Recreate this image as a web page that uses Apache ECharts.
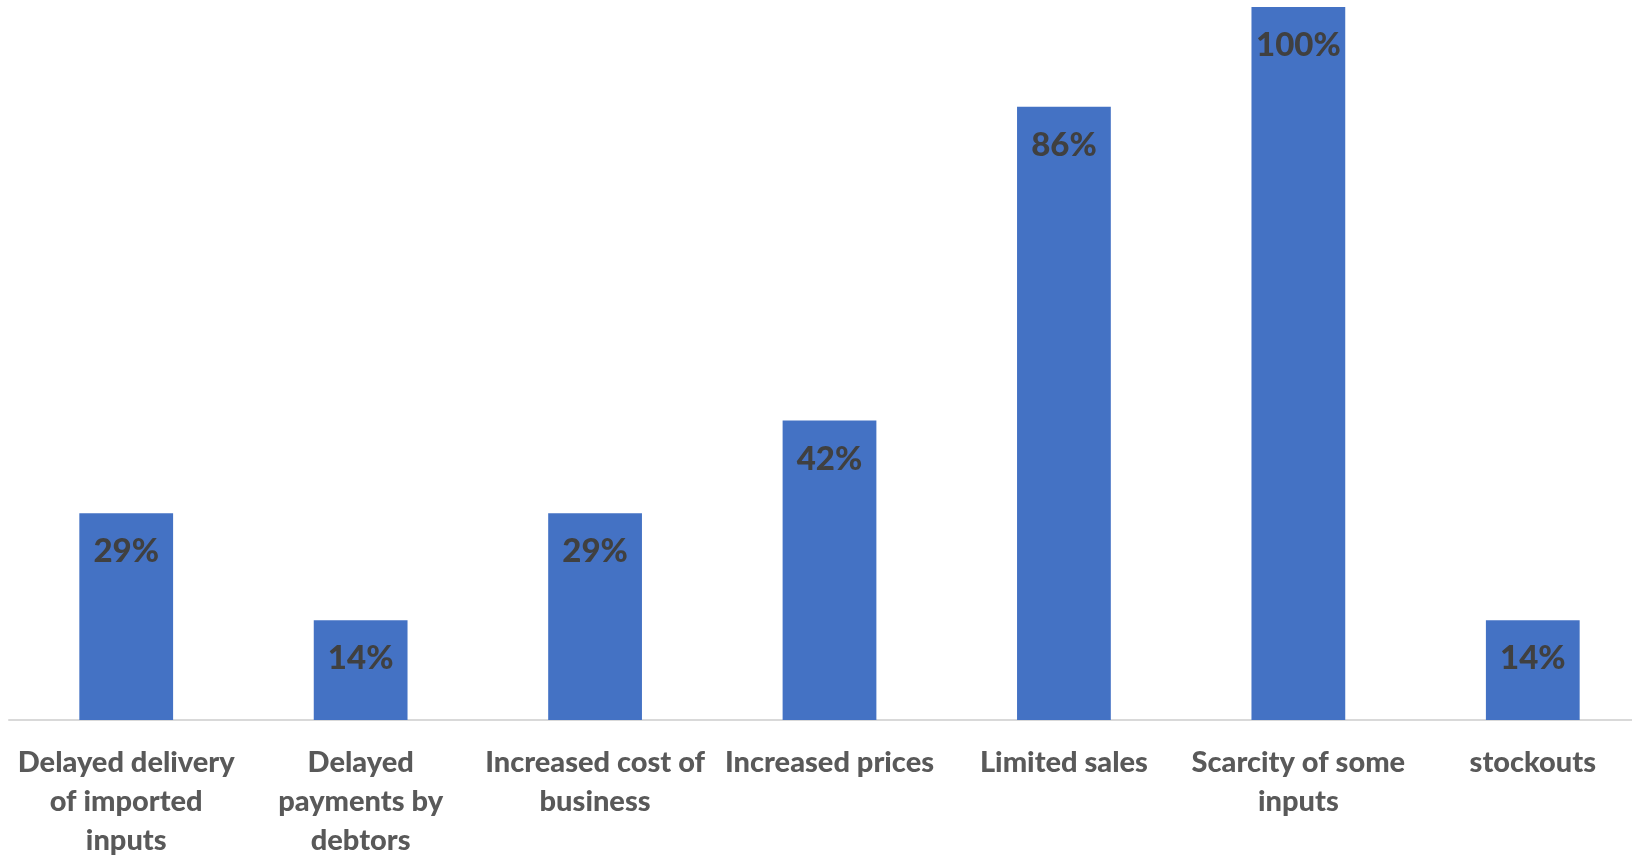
<!DOCTYPE html>
<html>
<head>
<meta charset="utf-8">
<title>Impacts reported by businesses</title>
<script src="https://cdn.jsdelivr.net/npm/echarts@6/dist/echarts.min.js"></script>
<style>
  html, body { margin: 0; padding: 0; background: #ffffff; overflow: hidden; }
  #chart { width: 1632px; height: 855px; }
</style>
</head>
<body>
<div id="chart"></div>
<script>
// Share of respondents reporting each impact
const categories = [
  'Delayed delivery\nof imported\ninputs',
  'Delayed\npayments by\ndebtors',
  'Increased cost of\nbusiness',
  'Increased prices',
  'Limited sales',
  'Scarcity of some\ninputs',
  'stockouts'
];
const shares = [0.29, 0.14, 0.29, 0.42, 0.86, 1.00, 0.14];

const chart = echarts.init(document.getElementById('chart'));
chart.setOption({
  animation: false,
  // the last category band runs slightly past the right edge
  grid: { left: 9, top: 7, right: -18, bottom: 135, containLabel: false, outerBoundsMode: 'none' },
  xAxis: {
    type: 'category',
    data: categories,
    axisLine: { show: true, lineStyle: { color: '#d9d9d9', width: 2 } },
    axisTick: { show: false },
    axisLabel: {
      interval: 0,
      margin: 23,
      color: '#595959',
      fontFamily: 'Lato',
      fontWeight: 900,
      fontSize: 29,
      lineHeight: 39,
      align: 'center'
    }
  },
  yAxis: {
    type: 'value',
    min: 0,
    max: 1,
    show: false,
    splitLine: { show: false }
  },
  series: [{
    type: 'bar',
    data: shares,
    barWidth: '40%',
    itemStyle: { color: '#4472c4' },
    label: {
      show: true,
      position: 'insideTop',
      distance: 22,
      color: '#404040',
      fontFamily: 'Lato',
      fontWeight: 900,
      fontSize: 33,
      formatter: p => Math.round(p.value * 100) + '%'
    }
  }]
});
</script>
</body>
</html>
